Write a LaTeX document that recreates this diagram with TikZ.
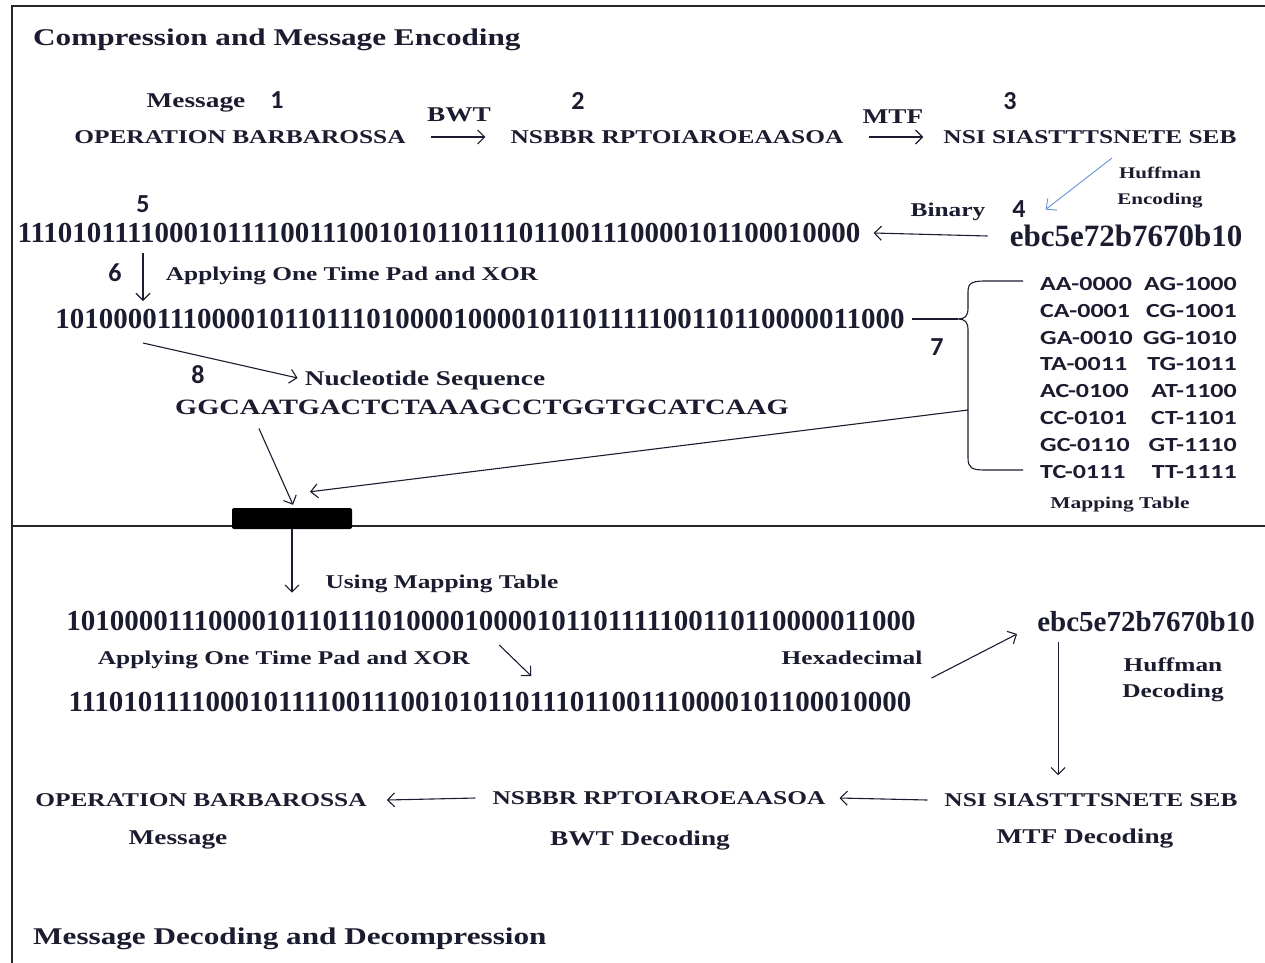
\documentclass[tikz,border=0pt]{standalone}
\usepackage{fontspec}
\setmainfont{Liberation Serif}[FakeStretch=1.3]
\newfontfamily\bitfont{Liberation Serif}
\newfontfamily\numfont{Carlito}
\newfontfamily\mapfont{Carlito}[FakeStretch=1.3]
\usetikzlibrary{arrows.meta,calc}
\definecolor{ink}{RGB}{28,28,48}
\definecolor{hufblue}{RGB}{100,145,215}
\tikzset{
  txt/.style={inner sep=0pt, text=ink, text height=13pt, text depth=0pt,
    font=\bfseries\fontsize{19.5}{21}\selectfont},
  tag/.style={txt, text height=14pt, font=\bfseries\fontsize{21}{23}\selectfont},
  small/.style={txt, text height=11pt, align=center, font=\bfseries\fontsize{16.2}{26}\selectfont},
  ttl/.style={txt, text height=16pt, anchor=west, font=\bfseries\fontsize{24}{26}\selectfont},
  bits/.style={txt, text height=19.6pt, font=\bitfont\bfseries\fontsize{29}{31}\selectfont},
  stepnum/.style={txt, text height=16.5pt, font=\numfont\bfseries\fontsize{26}{28}\selectfont},
  maptxt/.style={txt, text height=13pt, font=\mapfont\bfseries\fontsize{20}{22}\selectfont},
  arr/.style={draw=ink, line width=1.1pt, -{Straight Barb[length=7pt,width=14pt,line width=1.1pt]}}
}
\begin{document}
\begin{tikzpicture}[x=1pt, y={(0,-1pt)}]
    \useasboundingbox (0,0) rectangle (1265,962);
    % frame and divider
    \draw[line width=1.3pt, draw=black!85] (12,6) rectangle (1290,990);
    \draw[line width=1.3pt, draw=black!85] (12,526) -- (1290,526);
    % titles
    \node[ttl] (encTitle) at (33,37) {Compression and Message Encoding};
    \node[ttl] (decTitle) at (33,936) {Message Decoding and Decompression};

    % encoding, first row
    \node[tag] (msgLbl) at (196,100) {Message};
    \node[stepnum] (num1) at (277,100) {1};
    \node[txt] (opA) at (240,137) {OPERATION BARBAROSSA};
    \node[tag] (bwtLbl) at (459,114) {BWT};
    \node[stepnum] (num2) at (578,101) {2};
    \node[txt] (nsbA) at (677,137) {NSBBR RPTOIAROEAASOA};
    \node[tag] (mtfLbl) at (893,116) {MTF};
    \node[stepnum] (num3) at (1010,101) {3};
    \node[txt] (nsiA) at (1090,137) {NSI SIASTTTSNETE SEB};
    \node[small] (hufEnc) at (1160,199) {Huffman\\Encoding};
    \node[txt] (binLbl) at (948,210) {Binary};
    \node[stepnum] (num4) at (1019,209) {4};
    \node[bits, text height=20.5pt, font=\bitfont\bfseries\fontsize{31}{33}\selectfont] (hexA) at (1126,236) {ebc5e72b7670b10};
    \node[stepnum] (num5) at (143,204) {5};
    \node[bits] (binA) at (439,233) {111010111100010111100111001010110111011001110000101100010000};
    \node[stepnum] (num6) at (115,273) {6};
    \node[txt] (xorA) at (352,274) {Applying One Time Pad and XOR};
    \node[bits] (padA) at (480,319) {101000011100001011011101000010000101101111100110110000011000};
    \node[stepnum] (num7) at (937,347) {7};
    \node[stepnum] (num8) at (198,375) {8};
    \node[tag] (nuclLbl) at (425,378) {Nucleotide Sequence};
    \node[txt, text height=14.5pt, font=\bfseries\fontsize{21.9}{24}\selectfont] (seqA) at (482,407) {GGCAATGACTCTAAAGCCTGGTGCATCAAG};

    % mapping table
    \foreach \l/\r [count=\i from 0] in {AA-0000/AG-1000, CA-0001/CG-1001, GA-0010/GG-1010, TA-0011/TG-1011,
        AC-0100/AT-1100, CC-0101/CT-1101, GC-0110/GT-1110, TC-0111/TT-1111}
    {
        \node[maptxt, anchor=west] (mapL\i) at (1040,{284+26.8*\i}) {\l};
        \node[maptxt, anchor=east] (mapR\i) at (1237,{284+26.8*\i}) {\r};
    }
    \node[small, font=\bfseries\fontsize{16.5}{18}\selectfont] (mapLbl) at (1120,503) {Mapping Table};

    % brace round the table
    \coordinate (braceTip) at (958,319);
    \coordinate (braceMid) at (968,410);
    \draw[ink, line width=1.1pt] (1023,281) -- (985,281) .. controls (968,281) and (968,285) .. (968,295)
        -- (968,308) .. controls (968,316) and (965,319) .. (braceTip)
        .. controls (965,319) and (968,322) .. (968,330) -- (968,458)
        .. controls (968,468) and (972,470) .. (985,470) -- (1023,470);
    \draw[ink, line width=1.1pt] ([xshift=7pt]padA.east) -- (braceTip);

    % joint
    \node[fill=black, rounded corners=2pt, inner sep=0pt, minimum width=120pt, minimum height=21pt] (bar) at (292,518.5) {};

    % decoding
    \node[txt] (usingLbl) at (442,582) {Using Mapping Table};
    \node[bits] (padB) at (491,621) {101000011100001011011101000010000101101111100110110000011000};
    \node[txt] (xorB) at (284,658) {Applying One Time Pad and XOR};
    \node[bits] (binB) at (490,702) {111010111100010111100111001010110111011001110000101100010000};
    \node[txt] (hexLbl) at (852,658) {Hexadecimal};
    \node[bits] (hexB) at (1146,622) {ebc5e72b7670b10};
    \node[small, text height=13pt, font=\bfseries\fontsize{19.5}{26}\selectfont] (hufDec) at (1173,691) {Huffman\\Decoding};
    \node[txt] (nsiB) at (1091,800) {NSI SIASTTTSNETE SEB};
    \node[txt] (nsbB) at (659,798) {NSBBR RPTOIAROEAASOA};
    \node[txt] (opB) at (201,800) {OPERATION BARBAROSSA};
    \node[tag] (msgLblB) at (178,837) {Message};
    \node[tag] (bwtDec) at (640,838) {BWT Decoding};
    \node[tag] (mtfDec) at (1085,836) {MTF Decoding};

    % arrows, encoding
    \draw[arr] ([xshift=25pt]opA.east) -- ([xshift=-25pt]nsbA.west);
    \draw[arr] ([xshift=25pt]nsbA.east) -- ([xshift=-20pt]nsiA.west);
    \draw[arr, draw=hufblue, line width=0.9pt, -{Straight Barb[length=8pt,width=15pt,line width=0.9pt]}]
        ($(nsiA.center)+(22,21)$) -- ($(hexA.north west)+(36,-16)$);
    \draw[arr] ([xshift=-22pt]hexA.west) -- ([xshift=13pt]binA.east);
    \draw[arr] ($(binA.south -| num5)+(0,10)$) -- ($(padA.north -| num5)+(0,-8)$);
    \draw[arr] ($(padA.south -| num5)+(0,14)$) -- ([xshift=-7pt]nuclLbl.west);
    \draw[arr] ($(seqA.south west)+(84,14)$) -- ($(bar.north)+(1,-3)$);
    \draw[arr] (braceMid) -- ($(bar.north)+(18,-16)$);

    % arrows, decoding
    \draw[arr] (bar.south) -- ($(bar.south |- usingLbl.south)+(0,4)$);
    \draw[arr] ($(xorB.east)+(29,-13)$) -- ($(xorB.east)+(61,18)$);
    \draw[arr] ($(binB.east)+(20,-24)$) -- ($(hexB.west)+(-20,12)$);
    \coordinate (hufTop) at ($(hexB.south west)+(21,10)$);
    \draw[arr] (hufTop) -- ($(hufTop |- nsiB.north)+(0,-18)$);
    \draw[arr] ([xshift=-17pt]nsiB.west) -- ([xshift=14pt]nsbB.east);
    \draw[arr] ([xshift=-17pt]nsbB.west) -- ([xshift=20pt]opB.east);
\end{tikzpicture}
\end{document}
